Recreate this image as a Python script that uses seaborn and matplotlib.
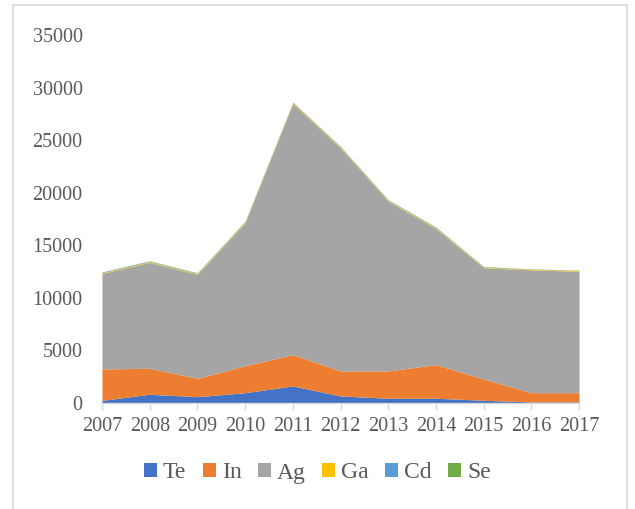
import matplotlib
matplotlib.use("Agg")
import matplotlib.pyplot as plt
import seaborn as sns
from matplotlib.patches import Rectangle

# Production values by element
years = [2007, 2008, 2009, 2010, 2011, 2012, 2013, 2014, 2015, 2016, 2017]
te = [250, 830, 600, 980, 1620, 670, 450, 450, 260, 100, 100]
in_ = [2990, 2470, 1750, 2570, 2980, 2380, 2600, 3200, 2020, 880, 880]
ag = [9080, 10070, 9880, 13600, 23870, 21200, 16130, 12930, 10580, 11680, 11550]
ga = [70, 70, 70, 80, 80, 70, 60, 60, 60, 60, 70]
cd = [50, 50, 50, 40, 40, 40, 40, 40, 30, 20, 20]
se = [30, 30, 30, 30, 30, 40, 50, 50, 30, 20, 10]
labels = ["Te", "In", "Ag", "Ga", "Cd", "Se"]
colors = ["#4472C4", "#ED7D31", "#A5A5A5", "#FFC000", "#5B9BD5", "#70AD47"]

sns.set_theme(style="white")
plt.rcParams["font.family"] = ["Liberation Serif", "DejaVu Serif"]

fig = plt.figure(figsize=(6.35, 5.09), dpi=100)
ax = fig.add_axes([102 / 635, 106 / 509, 477 / 635, 368 / 509])

ax.stackplot(years, te, in_, ag, ga, cd, se, labels=labels, colors=colors, linewidth=0)

ax.set_xlim(2007, 2017)
ax.set_ylim(0, 35000)
ax.set_yticks(range(0, 35001, 5000))
ax.set_xticks(years)

for s in ["top", "right", "left"]:
    ax.spines[s].set_visible(False)
ax.spines["bottom"].set_color("#D9D9D9")
ax.spines["bottom"].set_linewidth(1)
ax.tick_params(axis="x", bottom=True, length=5, color="#D9D9D9", width=1,
               labelsize=14.5, labelcolor="#595959", pad=5)
ax.tick_params(axis="y", left=False, labelsize=14.5, labelcolor="#595959", pad=8)

leg = fig.legend(loc="center", bbox_to_anchor=(0.5, 1 - 473 / 509), ncol=6,
                 frameon=False, fontsize=17, handlelength=0.55, handleheight=0.55,
                 handletextpad=0.25, columnspacing=0.7)
for t in leg.get_texts():
    t.set_color("#595959")

fig.patches.append(Rectangle((13 / 635, -0.05), 614 / 635, 1.05 - 5 / 509,
                             transform=fig.transFigure, fill=False,
                             edgecolor="#D9D9D9", linewidth=1.2))

fig.savefig("out.png", dpi=100)
